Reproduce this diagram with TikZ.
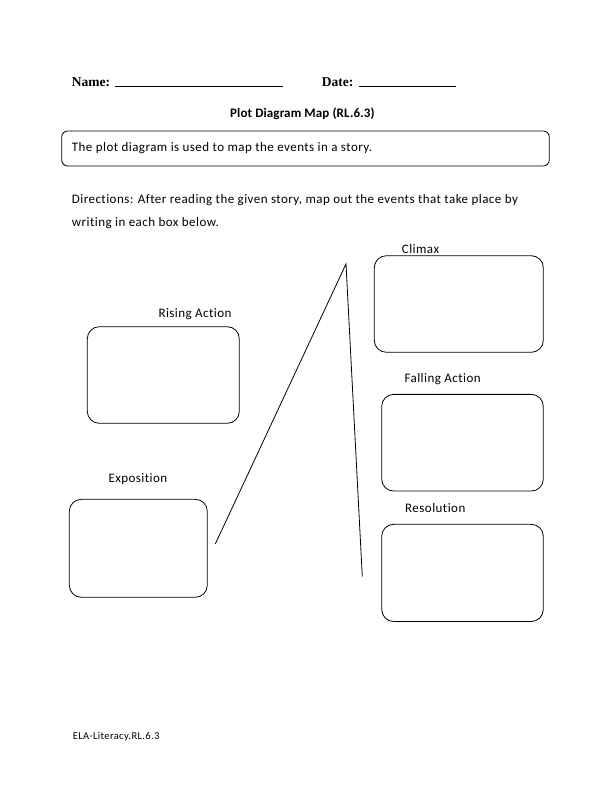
\documentclass[tikz,border=0pt]{standalone}
\usepackage{fontspec}
\setmainfont{Carlito}[Ligatures=NoCommon, LetterSpace=3.5]
\newfontfamily\timesfont{Liberation Serif}
\newfontfamily\titlefont{Carlito}[Ligatures=NoCommon, LetterSpace=1]
\begin{document}
\begin{tikzpicture}[x=1pt,y=-1pt,
  box/.style={draw, line width=0.8pt, rounded corners=12pt, inner sep=0pt},
  lbl/.style={anchor=west, inner sep=0pt, font=\fontsize{13}{15}\selectfont},
  plotline/.style={line width=0.8pt}]
\useasboundingbox (0,0) rectangle (612,792);
% header
\node[anchor=west, inner sep=0pt, font=\timesfont\bfseries\fontsize{13.5}{16}\selectfont] (name) at (71.7,81.7) {Name:};
\coordinate (nameA) at (115,86);
\coordinate (nameB) at (282.7,86);
\draw[line width=0.7pt] (nameA) -- (nameB);
\node[anchor=west, inner sep=0pt, font=\timesfont\bfseries\fontsize{13.5}{16}\selectfont] (date) at (321.7,81.7) {Date:};
\coordinate (dateA) at (359.3,86);
\coordinate (dateB) at (456,86);
\draw[line width=0.7pt] (dateA) -- (dateB);
\node[anchor=west, inner sep=0pt, font=\titlefont\bfseries\fontsize{13}{15}\selectfont] (title) at (230,113.3) {Plot Diagram Map (RL.6.3)};
% intro box
\node[draw, line width=0.8pt, rounded corners=6pt, minimum width=487.6pt, minimum height=35pt, inner sep=0pt] (intro) at (305.5,148.5) {};
\node[lbl] (introtext) at (71.7,148.3) {The plot diagram is used to map the events in a story.};
\node[lbl] (dir1) at (71.7,200) {Directions: After reading the given story, map out the events that take place by};
\node[lbl] (dir2) at (71.7,223.3) {writing in each box below.};
% boxes
\node[box, minimum width=138pt, minimum height=98pt] (expo) at (138.3,548.3) {};
\node[box, minimum width=152pt, minimum height=96.6pt] (rising) at (163.3,375) {};
\node[box, minimum width=169pt, minimum height=96.6pt] (climax) at (458.8,304) {};
\node[box, minimum width=161.6pt, minimum height=96.7pt] (falling) at (462.5,442.7) {};
\node[box, minimum width=161.6pt, minimum height=97.2pt] (resol) at (462.5,572.9) {};
% labels
\node[lbl] (climaxlbl) at (401.7,249) {Climax};
\node[lbl] (risinglbl) at (158.3,314) {Rising Action};
\node[lbl] (fallinglbl) at (404.3,379.3) {Falling Action};
\node[lbl] (expolbl) at (108.3,479.3) {Exposition};
\node[lbl] (resollbl) at (405,508.3) {Resolution};
% plot line
\coordinate (start) at (215.3,544);
\coordinate (peak) at (346,264);
\coordinate (finish) at (362.3,576.7);
\draw[plotline] (start) -- (peak) -- (finish);
% footer
\node[anchor=west, inner sep=0pt, font=\fontsize{10.5}{12}\selectfont] (footer) at (72.7,736.7) {ELA-Literacy.RL.6.3};
\end{tikzpicture}
\end{document}
